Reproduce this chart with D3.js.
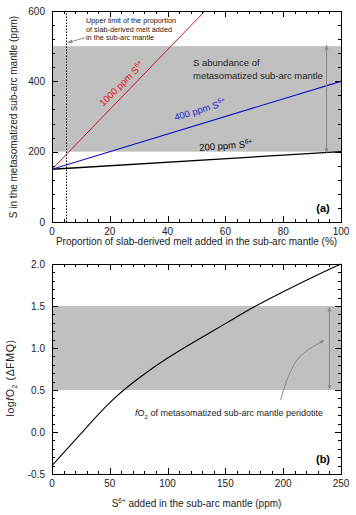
<!DOCTYPE html>
<html><head><meta charset="utf-8">
<script src="https://cdn.jsdelivr.net/npm/d3@7"></script>
<style>
body{margin:0;background:#fff;}
svg{display:block;font-family:"Liberation Sans",Arial,sans-serif;}
</style></head><body>
<svg id="chart" width="356" height="515"></svg>
<script>
// ---------- Panel (a) data ----------
const meltProportion = [0, 100];                 // % slab-derived melt
const S_200ppm  = [150, 200];                    // S in mantle (ppm)
const S_400ppm  = [150, 400];
const S_1000ppm = [150, 1000];
const upperLimitProportion = 5;
const shadeA = [200, 500];
const xTicksA = [0, 20, 40, 60, 80, 100];
const yTicksA = [0, 200, 400, 600];

// ---------- Panel (b) data ----------
const S6added = [0, 25, 50, 75, 100, 125, 150, 175, 200, 225, 250];
const logfO2  = [-0.40, -0.02, 0.35, 0.64, 0.88, 1.09, 1.29, 1.49, 1.67, 1.84, 2.00];
const shadeB = [0.5, 1.5];
const xTicksB = [0, 50, 100, 150, 200, 250];
const yTicksB = [-0.5, 0.0, 0.5, 1.0, 1.5, 2.0];

const svg = d3.select("#chart");
const defs = svg.append("defs");
defs.append("marker").attr("id","ah").attr("viewBox","0 0 10 10").attr("refX",9).attr("refY",5)
  .attr("markerWidth",5).attr("markerHeight",5).attr("orient","auto-start-reverse")
  .append("path").attr("d","M0,1 L10,5 L0,9 z").attr("fill","#888");

function frame(g, x, y, xMinor, yMinor, xTicks, yTicks, fmtY){
  const [x0,x1]=x.range(), [y0,y1]=y.range();
  const tk = g.append("g").attr("stroke","#000").attr("stroke-width",1);
  xMinor.forEach(v=>{const px=Math.round(x(v))+0.5;
    tk.append("line").attr("x1",px).attr("x2",px).attr("y1",y0).attr("y2",y0-3);
    tk.append("line").attr("x1",px).attr("x2",px).attr("y1",y1).attr("y2",y1+3);});
  yMinor.forEach(v=>{const py=Math.round(y(v))+0.5;
    tk.append("line").attr("y1",py).attr("y2",py).attr("x1",x0).attr("x2",x0+3);
    tk.append("line").attr("y1",py).attr("y2",py).attr("x1",x1).attr("x2",x1-3);});
  xTicks.forEach(v=>{const px=Math.round(x(v))+0.5;
    tk.append("line").attr("x1",px).attr("x2",px).attr("y1",y0).attr("y2",y0-6);
    tk.append("line").attr("x1",px).attr("x2",px).attr("y1",y1).attr("y2",y1+6);});
  yTicks.forEach(v=>{const py=Math.round(y(v))+0.5;
    tk.append("line").attr("y1",py).attr("y2",py).attr("x1",x0).attr("x2",x0+6);
    tk.append("line").attr("y1",py).attr("y2",py).attr("x1",x1).attr("x2",x1-6);});
  g.append("rect").attr("x",x0+0.5).attr("y",y1+0.5).attr("width",x1-x0).attr("height",y0-y1)
    .attr("fill","none").attr("stroke","#000").attr("stroke-width",1);
  const lab = g.append("g").attr("font-size","10px").attr("fill","#222");
  xTicks.forEach(v=>lab.append("text").attr("x",x(v)).attr("y",y0+13).attr("text-anchor","middle").text(v));
  yTicks.forEach(v=>lab.append("text").attr("x",x0-7).attr("y",y(v)).attr("dy","0.35em").attr("text-anchor","end").text(fmtY(v)));
}

// ================= Panel (a) =================
const xA = d3.scaleLinear().domain([0,100]).range([52,341]);
const yA = d3.scaleLinear().domain([0,600]).range([222,11]);
const gA = svg.append("g");
defs.append("clipPath").attr("id","clipA").append("rect")
  .attr("x",52).attr("y",11).attr("width",289).attr("height",211);

gA.append("rect").attr("x",xA(0)).attr("width",xA(100)-xA(0))
  .attr("y",yA(shadeA[1])).attr("height",yA(shadeA[0])-yA(shadeA[1])).attr("fill","#c0c0c0");

const lineA = d3.line().x(d=>xA(d[0])).y(d=>yA(d[1]));
const pa = gA.append("g").attr("clip-path","url(#clipA)").attr("fill","none");
pa.append("path").attr("d",lineA(meltProportion.map((p,i)=>[p,S_200ppm[i]]))).attr("stroke","#000").attr("stroke-width",1.3);
pa.append("path").attr("d",lineA(meltProportion.map((p,i)=>[p,S_400ppm[i]]))).attr("stroke","#1010c8").attr("stroke-width",1.1);
pa.append("path").attr("d",lineA(meltProportion.map((p,i)=>[p,S_1000ppm[i]]))).attr("stroke","#d0102a").attr("stroke-width",1);

gA.append("line").attr("x1",Math.round(xA(upperLimitProportion))+0.5).attr("x2",Math.round(xA(upperLimitProportion))+0.5)
  .attr("y1",yA(0)).attr("y2",yA(600)).attr("stroke","#000").attr("stroke-width",1).attr("stroke-dasharray","1.5,1.5");

frame(gA, xA, yA, d3.range(0,101,4), d3.range(0,601,40), xTicksA, yTicksA, d=>d);

gA.append("line").attr("x1",xA(95)).attr("x2",xA(95)).attr("y1",yA(shadeA[0])+1).attr("y2",yA(shadeA[1])-1)
  .attr("stroke","#888").attr("stroke-width",1).attr("marker-start","url(#ah)").attr("marker-end","url(#ah)");
gA.append("line").attr("x1",xA(11.4)).attr("y1",yA(524)).attr("x2",xA(5.5)).attr("y2",yA(510))
  .attr("stroke","#888").attr("stroke-width",1).attr("marker-end","url(#ah)");

const ta = gA.append("g").attr("fill","#222");
["Upper limit of the proportion","of slab-derived melt added","in the sub-arc mantle"].forEach((t,i)=>
  ta.append("text").attr("x",86).attr("y",23+i*8.5).attr("font-size","7.3px").text(t));
ta.append("text").attr("x",193).attr("y",66).attr("font-size","9.5px").text("S abundance of");
ta.append("text").attr("x",193).attr("y",79).attr("font-size","9.5px").text("metasomatized sub-arc mantle");

function sLabel(g, x, y, ang, color, ppm){
  const t = g.append("text").attr("transform",`translate(${x},${y}) rotate(${ang})`)
    .attr("text-anchor","middle").attr("font-size","9.5px").attr("fill",color);
  t.append("tspan").text(ppm+" ppm S");
  t.append("tspan").attr("dy","-4").attr("font-size","6.5px").text("6+");
}
sLabel(gA, 124, 86, -45, "#e01818", "1000");
sLabel(gA, 201, 113, -17, "#1a1ad0", "400");
sLabel(gA, 226, 149, -4, "#000", "200");

gA.append("text").attr("x",323).attr("y",212).attr("text-anchor","middle").attr("font-size","11px")
  .attr("font-weight","bold").text("(a)");
gA.append("text").attr("x",196.5).attr("y",245).attr("text-anchor","middle").attr("font-size","10px").attr("fill","#222")
  .text("Proportion of slab-derived melt added in the sub-arc mantle (%)");
gA.append("text").attr("transform","translate(17,117) rotate(-90)").attr("text-anchor","middle")
  .attr("font-size","10px").attr("fill","#222").text("S in the metasomatized sub-arc mantle (ppm)");

// ================= Panel (b) =================
const xB = d3.scaleLinear().domain([0,250]).range([52,341]);
const yB = d3.scaleLinear().domain([-0.5,2.0]).range([474,264]);
const gB = svg.append("g");
gB.append("rect").attr("x",xB(0)).attr("width",xB(250)-xB(0))
  .attr("y",yB(shadeB[1])).attr("height",yB(shadeB[0])-yB(shadeB[1])).attr("fill","#c0c0c0");
gB.append("path").attr("d",d3.line().x((d,i)=>xB(S6added[i])).y(d=>yB(d)).curve(d3.curveNatural)(logfO2))
  .attr("fill","none").attr("stroke","#000").attr("stroke-width",1.1);

frame(gB, xB, yB, d3.range(0,251,10), d3.range(-5,21,1).map(v=>v/10), xTicksB, yTicksB, d=>d.toFixed(1));

gB.append("line").attr("x1",xB(240)).attr("x2",xB(240)).attr("y1",yB(shadeB[0])-1).attr("y2",yB(shadeB[1])+1)
  .attr("stroke","#888").attr("stroke-width",1).attr("marker-start","url(#ah)").attr("marker-end","url(#ah)");
const curvPts = [[197.8,0.38],[204.4,0.66],[214.5,0.90],[235.3,1.09]];
gB.append("path").attr("d",d3.line().x(d=>xB(d[0])).y(d=>yB(d[1])).curve(d3.curveCatmullRom)(curvPts))
  .attr("fill","none").attr("stroke","#888").attr("stroke-width",1).attr("marker-end","url(#ah)");

const tb = gB.append("text").attr("x",135).attr("y",416).attr("font-size","9px").attr("fill","#222");
tb.append("tspan").attr("font-style","italic").text("f");
tb.append("tspan").text("O");
tb.append("tspan").attr("dy","2.5").attr("font-size","6px").text("2");
tb.append("tspan").attr("dy","-2.5").text(" of metasomatized sub-arc mantle peridotite");

gB.append("text").attr("x",323).attr("y",463).attr("text-anchor","middle").attr("font-size","11px")
  .attr("font-weight","bold").text("(b)");
const xt = gB.append("text").attr("x",196.5).attr("y",507).attr("text-anchor","middle").attr("font-size","10px").attr("fill","#222");
xt.append("tspan").text("S");
xt.append("tspan").attr("dy","-4").attr("font-size","6.5px").text("6+");
xt.append("tspan").attr("dy","4").text(" added in the sub-arc mantle (ppm)");
const yt = gB.append("text").attr("transform","translate(14,378) rotate(-90)").attr("text-anchor","middle")
  .attr("font-size","10.5px").attr("letter-spacing","0.6px").attr("fill","#222");
yt.append("tspan").text("log");
yt.append("tspan").attr("font-style","italic").text("f");
yt.append("tspan").text("O");
yt.append("tspan").attr("dy","2.5").attr("font-size","7px").text("2");
yt.append("tspan").attr("dy","-2.5").text(" (ΔFMQ)");
</script></body></html>
